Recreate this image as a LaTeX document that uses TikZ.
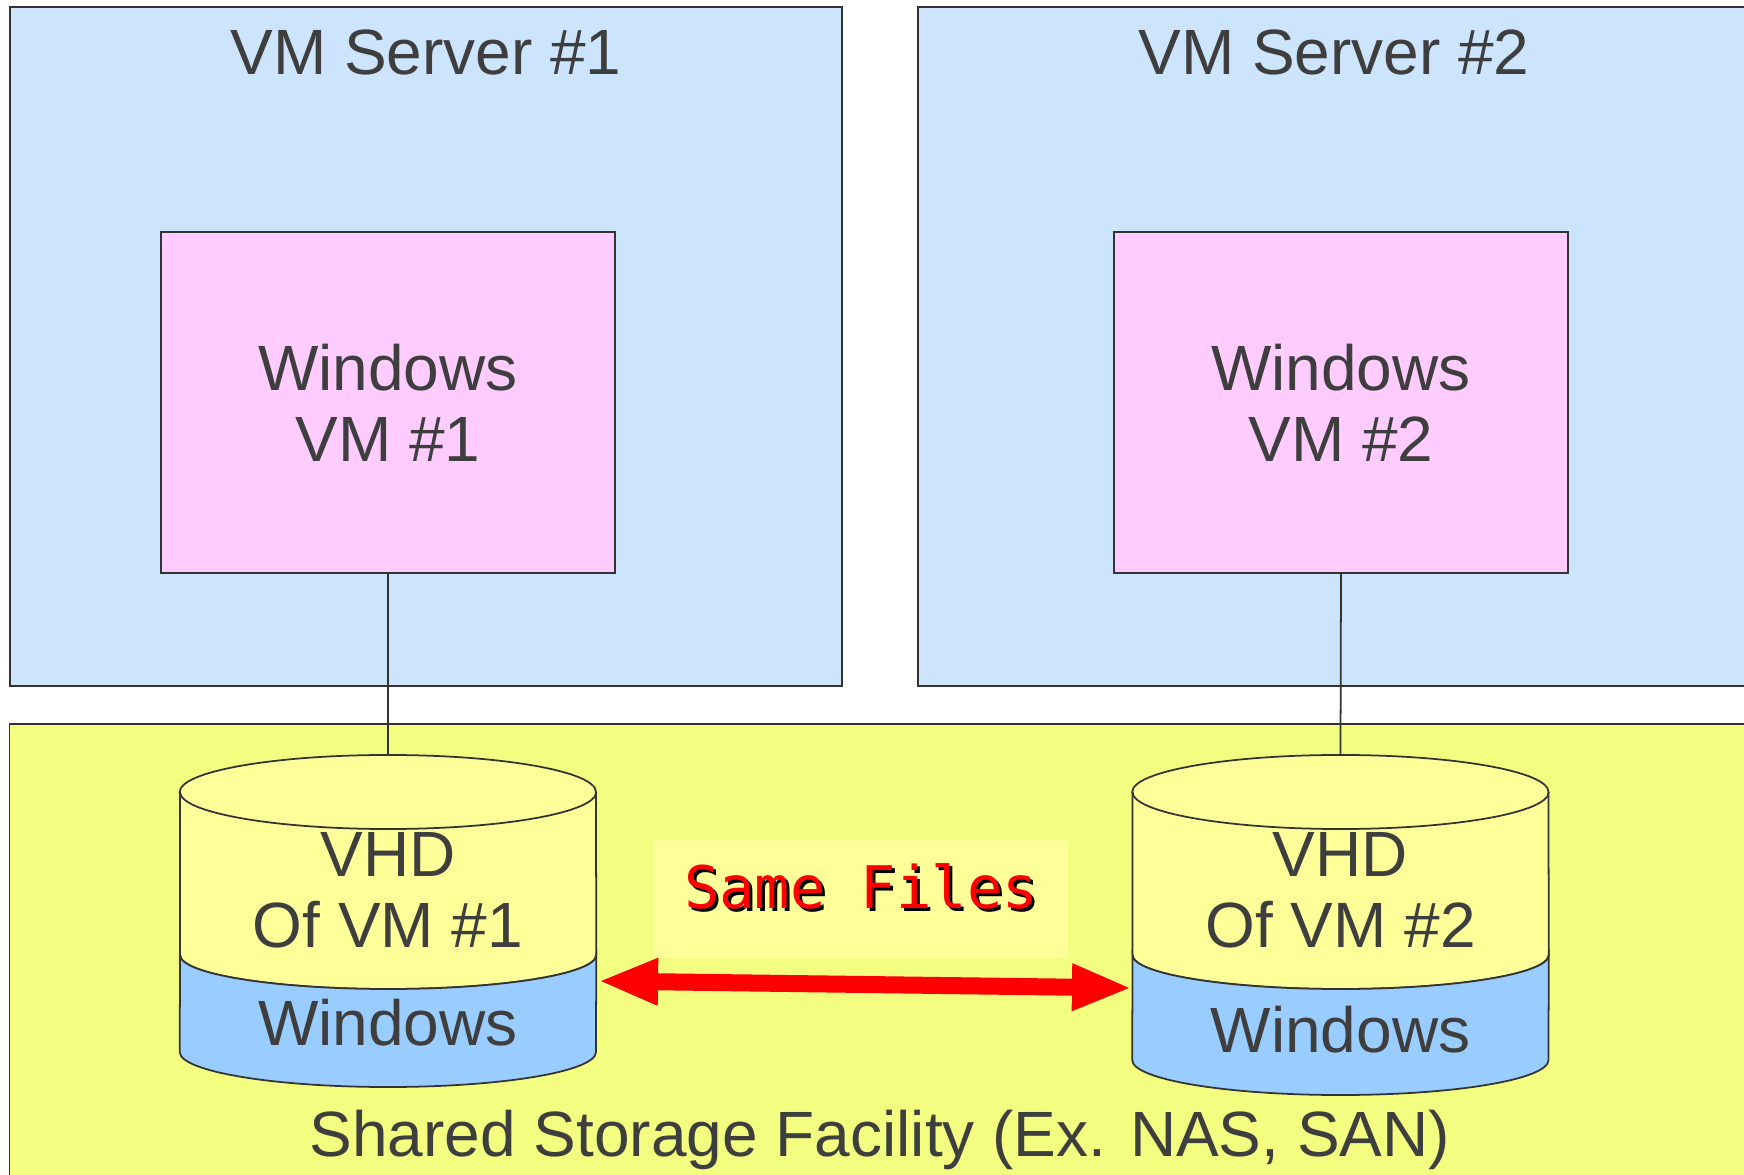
\documentclass[tikz,border=0pt]{standalone}
\usepackage{fontspec}
\setmainfont{Liberation Sans}
\newfontfamily\monofont{DejaVu Sans Mono}
\usetikzlibrary{arrows.meta}
\definecolor{serverblue}{HTML}{CCE5FC}
\definecolor{vmpink}{HTML}{FFCCFF}
\definecolor{storageyellow}{HTML}{F3FE80}
\definecolor{diskyellow}{HTML}{FFFF99}
\definecolor{diskblue}{HTML}{99CCFF}
\definecolor{textgray}{HTML}{3E3E3E}

\begin{document}
\begin{tikzpicture}[x=0.01cm,y=0.01cm,
    every node/.style={font=\fontsize{18.2}{20.2}\selectfont, text=textgray},
    box/.style={draw=black!80, line width=0.5pt, inner sep=0pt, outer sep=0pt},
    serverbox/.style={box, fill=serverblue, minimum width=8.32cm, minimum height=6.79cm},
    vmbox/.style={box, fill=vmpink, minimum width=4.54cm, minimum height=3.41cm, align=center},
    disk/.style={draw=black!80, line width=0.5pt},
    samefont/.style={font=\monofont\fontsize{16.7}{20}\selectfont, anchor=base}]
  \useasboundingbox (0,0) rectangle (1744,1175);
  \fill[white] (0,0) rectangle (1744,1175);
  \clip (0,0) rectangle (1744,1175);

  \node[serverbox] (srvA) at (426,828.5) {};
  \node[serverbox] (srvB) at (1334,828.5) {};
  \node[anchor=base] (srvAlbl) at ([yshift=-0.68cm]srvA.north) {VM Server \#1};
  \node[anchor=base] (srvBlbl) at ([yshift=-0.68cm]srvB.north) {VM Server \#2};
  \node[vmbox] (vmA) at (388,772.5) {Windows\\VM \#1};
  \node[vmbox] (vmB) at (1341,772.5) {Windows\\VM \#2};

  \node[box, fill=storageyellow, minimum width=17.5cm, minimum height=4.66cm] (storage) at (885,218) {};
  \node[anchor=base] (storagelbl) at (880,18) {Shared Storage Facility (Ex. NAS, SAN)};

  \foreach \n/\cx/\bot/\wb/\lbl in {A/388/123/129/1, B/1340.5/115/122/2}{
    \filldraw[disk, fill=diskyellow] (\cx-208,383) -- (\cx-208,220)
      arc[start angle=180, end angle=360, x radius=2.08cm, y radius=0.34cm] -- (\cx+208,383)
      arc[start angle=0, end angle=180, x radius=2.08cm, y radius=0.37cm] -- cycle;
    \filldraw[disk, fill=diskblue] (\cx-208,220)
      arc[start angle=180, end angle=360, x radius=2.08cm, y radius=0.34cm] -- (\cx+208,\bot)
      arc[start angle=0, end angle=-180, x radius=2.08cm, y radius=0.35cm] -- cycle;
    \draw[disk] (\cx-208,383) arc[start angle=180, end angle=360, x radius=2.08cm, y radius=0.37cm];
    \coordinate (vhd\n-top) at (\cx,420);
    \node[anchor=base] (vhd\n-a) at (\cx,298) {VHD};
    \node[anchor=base] (vhd\n-b) at (\cx,227) {Of VM \#\lbl};
    \node[anchor=base] (vhd\n-os) at (\cx,\wb) {Windows};
  }

  \draw[disk] (vmA.south) -- (vhdA-top);
  \draw[disk] (vmB.south) -- (vhdB-top);

  \node[fill=diskyellow, inner sep=0pt, minimum width=4.15cm, minimum height=1.18cm] (samebg) at (860.5,276) {};
  \node[samefont, text=black] (sameshadow) at (864,263) {Same Files};
  \node[samefont, text=red] (same) at (861,266) {Same Files};

  \coordinate (vhdA-east) at (598,194);
  \coordinate (vhdB-west) at (1132,187);
  \draw[red, line width=0.17cm, {Triangle[length=0.6cm,width=0.43cm]}-{Triangle[length=0.6cm,width=0.43cm]}] (vhdA-east) -- (vhdB-west);
\end{tikzpicture}
\end{document}
